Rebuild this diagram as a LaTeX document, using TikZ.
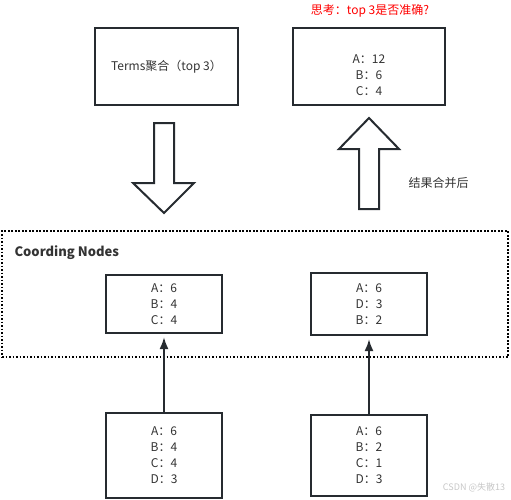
\documentclass[tikz,border=0pt]{standalone}
\usepackage{fontspec}
\setmainfont{Noto Sans CJK SC}
\usetikzlibrary{arrows.meta}

\definecolor{linec}{HTML}{262B30}
\definecolor{textc}{HTML}{333333}

\begin{document}
\begin{tikzpicture}[x=1pt, y=-1pt,
                    >={Latex[length=12pt,width=9pt]},
                    font=\fontsize{12}{16}\selectfont,
                    box/.style={draw=linec, line width=2pt, rectangle, align=center, text=textc, inner sep=0pt},
                    frame/.style={draw=black, line width=1.3pt, dash pattern=on 1.6pt off 1.9pt, rectangle, inner sep=0pt},
                    bigarrow/.style={draw=linec, line width=2pt, fill=white, line join=miter},
                    ra/.style={->, draw=linec, line width=2pt, shorten >=3pt}]

\useasboundingbox (0,0) rectangle (511,499);

% top row
\node [box, minimum width=143pt, minimum height=77pt] (terms) at (166.5,66.5) {Terms聚合（top 3）};
\node [box, minimum width=152pt, minimum height=77pt] (result) at (369,66.5) {};
\node [align=center, text=textc] (resulttxt) at ([yshift=-8.5pt]result.center) {A：12\\B：6\\C：4};
\node [text=red] (think) at (370,11) {思考：top 3是否准确?};

% block arrows
\draw [bigarrow] (154,123) -- (174,123) -- (174,183) -- (194,183) -- (164,213) -- (133,183) -- (154,183) -- cycle;
\draw [bigarrow] (369,118) -- (399,149) -- (379,149) -- (379,209) -- (359,209) -- (359,149) -- (339,149) -- cycle;
\node [text=textc, anchor=west] (merge) at (405,183) {结果合并后};

% coordinating nodes
\node [frame, minimum width=506pt, minimum height=126pt] (coord) at (255,294) {};
\node [anchor=west, text=textc, font=\fontsize{13}{16}\selectfont\bfseries] (coordlbl) at (11,253) {Coording Nodes};
\node [box, minimum width=116pt, minimum height=58pt] (c1) at (164,304) {A：6\\B：4\\C：4};
\node [box, minimum width=116pt, minimum height=62pt] (c2) at (369,304) {A：6\\D：3\\B：2};

% data nodes
\node [box, minimum width=116pt, minimum height=85pt] (d1) at (164,455.5) {A：6\\B：4\\C：4\\D：3};
\node [box, minimum width=116pt, minimum height=81pt] (d2) at (369,455.5) {A：6\\B：2\\C：1\\D：3};

\draw [ra] (d1) -- (c1);
\draw [ra] (d2) -- (c2);

\node [text=black!22, font=\fontsize{9}{10}\selectfont] (mark) at (474,487) {CSDN @失散13};
\end{tikzpicture}
\end{document}
